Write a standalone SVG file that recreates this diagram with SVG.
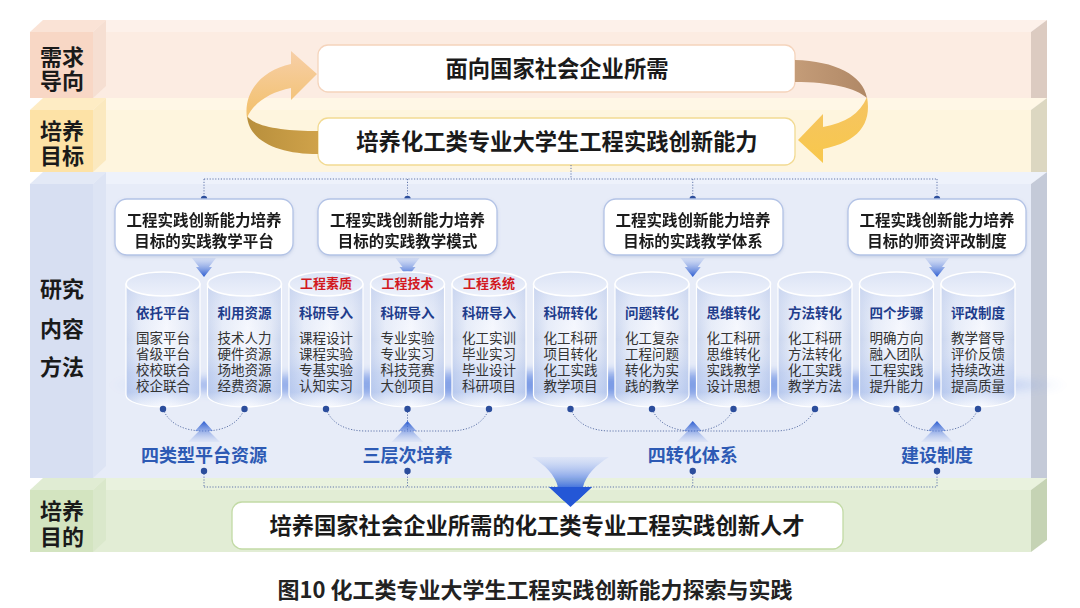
<svg xmlns="http://www.w3.org/2000/svg" xmlns:xlink="http://www.w3.org/1999/xlink" width="1080" height="608" viewBox="0 0 1080 608">
<style>
.lbl{font-family:"Noto Sans CJK SC","Noto Sans",sans-serif;font-weight:700;font-size:22px;fill:#1a1a1a;text-anchor:middle}
.big{font-family:"Noto Sans CJK SC","Noto Sans",sans-serif;font-weight:700;font-size:22.3px;fill:#1a1a1a;text-anchor:middle}
.hdr{font-family:"Noto Sans CJK SC","Noto Sans",sans-serif;font-weight:700;font-size:15.5px;fill:#1a1a1a;text-anchor:middle}
.red{font-family:"Noto Sans CJK SC","Noto Sans",sans-serif;font-weight:700;font-size:13px;fill:#d2191f;text-anchor:middle}
.ttl{font-family:"Noto Sans CJK SC","Noto Sans",sans-serif;font-weight:700;font-size:13.5px;fill:#1f3d8c;text-anchor:middle}
.body{font-family:"Noto Sans CJK SC","Noto Sans",sans-serif;font-weight:400;font-size:13.5px;fill:#333;text-anchor:middle}
.grp{font-family:"Noto Sans CJK SC","Noto Sans",sans-serif;font-weight:700;font-size:18px;fill:#2d5ab4;text-anchor:middle}
.cap{font-family:"Noto Sans CJK SC","Noto Sans",sans-serif;font-weight:700;font-size:22px;fill:#222;text-anchor:middle}
.dot{fill:#2b4d9c}
.dl{fill:none;stroke:#6277ab;stroke-width:1;stroke-dasharray:1.2 1.6}
.hbox{fill:#fff;stroke:#b3c3e6;stroke-width:1.3}
</style>
<defs>
<linearGradient id="cylBody" x1="0" y1="0" x2="1" y2="0">
<stop offset="0" stop-color="#c8d4ee"/><stop offset="0.2" stop-color="#e5ebf8"/><stop offset="0.55" stop-color="#f6f8fe"/><stop offset="0.85" stop-color="#e2e8f6"/><stop offset="1" stop-color="#cbd6ee"/>
</linearGradient>
<linearGradient id="cylShade" x1="0" y1="0" x2="0" y2="1">
<stop offset="0" stop-color="#c5d2f0" stop-opacity="0.6"/><stop offset="0.45" stop-color="#ffffff" stop-opacity="0"/><stop offset="0.72" stop-color="#a3bbee" stop-opacity="0.3"/><stop offset="0.88" stop-color="#9bb5ec" stop-opacity="0.4"/><stop offset="1" stop-color="#ffffff" stop-opacity="0.3"/>
</linearGradient>
<linearGradient id="cylTop" x1="0" y1="0" x2="0" y2="1">
<stop offset="0" stop-color="#dbe3f5"/><stop offset="1" stop-color="#edf1fb"/>
</linearGradient>
<linearGradient id="downG" x1="0" y1="0" x2="0" y2="1">
<stop offset="0" stop-color="#8fa9e8" stop-opacity="0.2"/><stop offset="1" stop-color="#2a5bd0"/>
</linearGradient>
<linearGradient id="upG" x1="0" y1="0" x2="0" y2="1">
<stop offset="0" stop-color="#2a5bd0"/><stop offset="1" stop-color="#8fa9e8" stop-opacity="0.1"/>
</linearGradient>
<linearGradient id="bigG" x1="0" y1="0" x2="0" y2="1">
<stop offset="0" stop-color="#a9bff0" stop-opacity="0.15"/><stop offset="0.6" stop-color="#4a78de"/><stop offset="1" stop-color="#2457d6"/>
</linearGradient>
<linearGradient id="peachG" x1="0" y1="0" x2="0" y2="1">
<stop offset="0" stop-color="#f7cfa8"/><stop offset="1" stop-color="#f2c06a"/>
</linearGradient>
<linearGradient id="goldG" x1="0" y1="0" x2="1" y2="0">
<stop offset="0" stop-color="#b88f3c"/><stop offset="1" stop-color="#cfa24a"/>
</linearGradient>
<linearGradient id="brownG" x1="0" y1="0" x2="1" y2="0">
<stop offset="0" stop-color="#c49c78"/><stop offset="1" stop-color="#b08866"/>
</linearGradient>
<linearGradient id="yellowG" x1="0" y1="0" x2="0" y2="1">
<stop offset="0" stop-color="#f5c463"/><stop offset="1" stop-color="#f8c84c"/>
</linearGradient>
<radialGradient id="glowG" cx="0.5" cy="0.5" r="0.5">
<stop offset="0" stop-color="#5f86e0" stop-opacity="1"/><stop offset="0.8" stop-color="#7b9be6" stop-opacity="0.75"/><stop offset="1" stop-color="#8eaaea" stop-opacity="0"/>
</radialGradient>
<filter id="blur" x="-10%" y="-100%" width="120%" height="300%"><feGaussianBlur stdDeviation="4"/></filter>
<filter id="sh" x="-10%" y="-20%" width="120%" height="150%"><feDropShadow dx="0" dy="1.5" stdDeviation="1.5" flood-color="#6b7fb0" flood-opacity="0.25"/></filter>
<g id="cyl">
<path d="M-37,284 L-37,395 A37,12 0 0 0 37,395 L37,284 Z" fill="url(#cylBody)"/>
<path d="M-37,284 L-37,395 A37,12 0 0 0 37,395 L37,284 Z" fill="url(#cylShade)" stroke="#ffffff" stroke-width="1.2"/>
<ellipse cx="0" cy="284" rx="37" ry="12" fill="url(#cylTop)" stroke="#ffffff" stroke-width="1.6"/>
</g>
</defs>

<rect width="1080" height="608" fill="#ffffff"/>

<!-- band 1 -->
<g id="band-demand">
<polygon points="30,32 46,20 1047,20 1031,32" fill="#fdf1ea"/>
<rect x="30" y="32" width="1001" height="66" fill="#fcece2"/>
<polygon points="1031,32 1047,20 1047,98 1031,98" fill="#dccbc1"/>
<rect x="30" y="32" width="63" height="66" fill="#f8d7c5"/>
<polygon points="93,32 106,20 106,86 93,98" fill="#f6dfd2"/>
<polygon points="30,32 43,20 106,20 93,32" fill="#fae3d6"/>
<text class="lbl" x="62" y="64.5">需求<tspan x="62" dy="24.5">导向</tspan></text>
</g>
<!-- band 2 -->
<g id="band-goal">
<polygon points="30,110 46,98 1047,98 1031,110" fill="#fff7e6"/>
<rect x="30" y="110" width="1001" height="62" fill="#fef5de"/>
<polygon points="1031,110 1047,98 1047,172 1031,172" fill="#dcd7c1"/>
<rect x="30" y="110" width="63" height="62" fill="#fde2a6"/>
<polygon points="93,110 106,98 106,160 93,172" fill="#fbe9bf"/>
<polygon points="30,110 43,98 106,98 93,110" fill="#feecc4"/>
<text class="lbl" x="62" y="138.5">培养<tspan x="62" dy="25.5">目标</tspan></text>
</g>
<!-- band 3 -->
<g id="band-research">
<polygon points="30,184 46,172 1047,172 1031,184" fill="#eef2fb"/>
<rect x="30" y="184" width="1001" height="294" fill="#e7ecf8"/>
<polygon points="1031,184 1047,172 1047,478 1031,478" fill="#c4cad8"/>
<rect x="30" y="184" width="63" height="294" fill="#d7dff2"/>
<polygon points="93,184 106,172 106,466 93,478" fill="#dde4f4"/>
<polygon points="30,184 43,172 106,172 93,184" fill="#e3e9f6"/>
<text class="lbl" x="62" y="296.5">研究<tspan x="62" dy="40">内容</tspan><tspan x="62" dy="38.5">方法</tspan></text>
</g>
<!-- band 4 -->
<g id="band-purpose">
<polygon points="30,490 46,478 1047,478 1031,490" fill="#e9f2de"/>
<rect x="30" y="490" width="1001" height="62" fill="#e2edd5"/>
<polygon points="1031,490 1047,478 1047,540 1031,552" fill="#c5d3b4"/>
<rect x="30" y="490" width="63" height="62" fill="#d3e4c0"/>
<polygon points="93,490 106,478 106,540 93,552" fill="#dae8cb"/>
<polygon points="30,490 43,478 106,478 93,490" fill="#e0ecd3"/>
<text class="lbl" x="62" y="518.5">培养<tspan x="62" dy="26.5">目的</tspan></text>
</g>

<!-- glow behind cylinders -->
<ellipse cx="588" cy="385" rx="480" ry="16" fill="url(#glowG)" filter="url(#blur)" opacity="0.9"/>

<!-- top nodes -->
<g id="node-demand">
<rect x="318" y="45" width="477" height="47" rx="10" fill="#fff" stroke="#f5d4bc" stroke-width="1.3"/>
<text class="big" x="557" y="76.5">面向国家社会企业所需</text>
</g>
<g id="node-goal">
<rect x="318" y="118" width="477" height="47" rx="10" fill="#fff" stroke="#f2da92" stroke-width="1.3"/>
<text class="big" x="557" y="149.5">培养化工类专业大学生工程实践创新能力</text>
</g>

<!-- cycle arrows -->
<g id="cycle-arrows">
<path d="M247,116 C255,127 285,131 318,131 L318,154 C280,154 249,142 247,116 Z" fill="url(#goldG)"/>
<path d="M247,118 C243,92 262,70 291,64 L291,51 L317,74 L291,100 L291,88 C270,92 253,103 247,118 Z" fill="url(#peachG)"/>
<path d="M795,60 C835,61 863,75 867,98 C856,88 830,82 795,82 Z" fill="url(#brownG)"/>
<path d="M867,97 C872,124 858,142 823,149 L823,163 L798,140 L823,114 L823,127 C845,123 860,114 867,97 Z" fill="url(#yellowG)"/>
</g>

<!-- connectors -->
<g id="connectors">
<path class="dl" d="M571,165 L571,179 M204,179 L937,179 M204,179 L204,199 M407.5,179 L407.5,199 M692.75,179 L692.75,199 M937,179 L937,199"/>
<circle class="dot" cx="204" cy="199" r="3.2"/>
<circle class="dot" cx="407.5" cy="199" r="3.2"/>
<circle class="dot" cx="692.75" cy="199" r="3.2"/>
<circle class="dot" cx="937" cy="199" r="3.2"/>
<path d="M192,258 L216,258 L209,267 L212,267 L204,277 L196,267 L199,267 Z" fill="url(#downG)"/>
<path d="M395.5,258 L419.5,258 L412.5,267 L415.5,267 L407.5,277 L399.5,267 L402.5,267 Z" fill="url(#downG)"/>
<path d="M680.75,258 L704.75,258 L697.75,267 L700.75,267 L692.75,277 L684.75,267 L687.75,267 Z" fill="url(#downG)"/>
<path d="M925,258 L949,258 L942,267 L945,267 L937,277 L929,267 L932,267 Z" fill="url(#downG)"/>
<path class="dl" d="M163,409 C169,424 184,431 204,431 C224,431 238,424 244.5,409"/>
<path class="dl" d="M326,409 C332,424 346,431 366,431 L449,431 C469,431 483,424 489,409 M407.5,409 L407.5,431"/>
<path class="dl" d="M570.5,409 C577,424 591,431 611,431 L774,431 C794,431 808,424 815,409 M652,409 C658,423 672,431 692.75,431 C713,431 727,423 733.5,409"/>
<path class="dl" d="M896.5,409 C902,424 917,431 937,431 C957,431 972,424 978,409"/>
<path d="M204,421 L213,431 L209,431 L220,442 L188,442 L199,431 L195,431 Z" fill="url(#upG)"/>
<path d="M407.5,421 L416.5,431 L412.5,431 L423.5,442 L391.5,442 L402.5,431 L398.5,431 Z" fill="url(#upG)"/>
<path d="M692.75,421 L701.75,431 L697.75,431 L708.75,442 L676.75,442 L687.75,431 L683.75,431 Z" fill="url(#upG)"/>
<path d="M937,421 L946,431 L942,431 L953,442 L921,442 L932,431 L928,431 Z" fill="url(#upG)"/>
<path class="dl" d="M204,471 L204,487 M407.5,471 L407.5,487 M692.75,471 L692.75,487 M937,471 L937,487 M204,487 L937,487"/>
<circle class="dot" cx="204" cy="471" r="3.2"/>
<circle class="dot" cx="407.5" cy="471" r="3.2"/>
<circle class="dot" cx="692.75" cy="471" r="3.2"/>
<circle class="dot" cx="937" cy="471" r="3.2"/>
<path d="M532,457 L609,457 C596,465 586,475 583,487 L592,487 L570.5,507 L549,487 L558,487 C555,475 545,465 532,457 Z" fill="url(#bigG)"/>
</g>

<!-- header nodes -->
<g id="hdr-platform" filter="url(#sh)">
<rect class="hbox" x="115" y="199" width="178" height="56" rx="12"/>
<text class="hdr" x="204" y="225.5">工程实践创新能力培养<tspan x="204" dy="21">目标的实践教学平台</tspan></text>
</g>
<g id="hdr-mode" filter="url(#sh)">
<rect class="hbox" x="318" y="199" width="179" height="56" rx="12"/>
<text class="hdr" x="407.5" y="225.5">工程实践创新能力培养<tspan x="407.5" dy="21">目标的实践教学模式</tspan></text>
</g>
<g id="hdr-system" filter="url(#sh)">
<rect class="hbox" x="604" y="199" width="179" height="56" rx="12"/>
<text class="hdr" x="693" y="225.5">工程实践创新能力培养<tspan x="693" dy="21">目标的实践教学体系</tspan></text>
</g>
<g id="hdr-faculty" filter="url(#sh)">
<rect class="hbox" x="848" y="199" width="178" height="56" rx="12"/>
<text class="hdr" x="937" y="225.5">工程实践创新能力培养<tspan x="937" dy="21">目标的师资评改制度</tspan></text>
</g>

<!-- cylinders -->
<g id="cyl-1" transform="translate(163,0)"><use href="#cyl"/>
<text class="ttl" x="0" y="318">依托平台</text>
<text class="body" x="0" y="343">国家平台<tspan x="0" dy="16">省级平台</tspan><tspan x="0" dy="16">校校联合</tspan><tspan x="0" dy="16">校企联合</tspan></text></g>
<g id="cyl-2" transform="translate(244.5,0)"><use href="#cyl"/>
<text class="ttl" x="0" y="318">利用资源</text>
<text class="body" x="0" y="343">技术人力<tspan x="0" dy="16">硬件资源</tspan><tspan x="0" dy="16">场地资源</tspan><tspan x="0" dy="16">经费资源</tspan></text></g>
<g id="cyl-3" transform="translate(326,0)"><use href="#cyl"/>
<text class="red" x="0" y="288">工程素质</text>
<text class="ttl" x="0" y="318">科研导入</text>
<text class="body" x="0" y="343">课程设计<tspan x="0" dy="16">课程实验</tspan><tspan x="0" dy="16">专基实验</tspan><tspan x="0" dy="16">认知实习</tspan></text></g>
<g id="cyl-4" transform="translate(407.5,0)"><use href="#cyl"/>
<text class="red" x="0" y="288">工程技术</text>
<text class="ttl" x="0" y="318">科研导入</text>
<text class="body" x="0" y="343">专业实验<tspan x="0" dy="16">专业实习</tspan><tspan x="0" dy="16">科技竞赛</tspan><tspan x="0" dy="16">大创项目</tspan></text></g>
<g id="cyl-5" transform="translate(489,0)"><use href="#cyl"/>
<text class="red" x="0" y="288">工程系统</text>
<text class="ttl" x="0" y="318">科研导入</text>
<text class="body" x="0" y="343">化工实训<tspan x="0" dy="16">毕业实习</tspan><tspan x="0" dy="16">毕业设计</tspan><tspan x="0" dy="16">科研项目</tspan></text></g>
<g id="cyl-6" transform="translate(570.5,0)"><use href="#cyl"/>
<text class="ttl" x="0" y="318">科研转化</text>
<text class="body" x="0" y="343">化工科研<tspan x="0" dy="16">项目转化</tspan><tspan x="0" dy="16">化工实践</tspan><tspan x="0" dy="16">教学项目</tspan></text></g>
<g id="cyl-7" transform="translate(652,0)"><use href="#cyl"/>
<text class="ttl" x="0" y="318">问题转化</text>
<text class="body" x="0" y="343">化工复杂<tspan x="0" dy="16">工程问题</tspan><tspan x="0" dy="16">转化为实</tspan><tspan x="0" dy="16">践的教学</tspan></text></g>
<g id="cyl-8" transform="translate(733.5,0)"><use href="#cyl"/>
<text class="ttl" x="0" y="318">思维转化</text>
<text class="body" x="0" y="343">化工科研<tspan x="0" dy="16">思维转化</tspan><tspan x="0" dy="16">实践教学</tspan><tspan x="0" dy="16">设计思想</tspan></text></g>
<g id="cyl-9" transform="translate(815,0)"><use href="#cyl"/>
<text class="ttl" x="0" y="318">方法转化</text>
<text class="body" x="0" y="343">化工科研<tspan x="0" dy="16">方法转化</tspan><tspan x="0" dy="16">化工实践</tspan><tspan x="0" dy="16">教学方法</tspan></text></g>
<g id="cyl-10" transform="translate(896.5,0)"><use href="#cyl"/>
<text class="ttl" x="0" y="318">四个步骤</text>
<text class="body" x="0" y="343">明确方向<tspan x="0" dy="16">融入团队</tspan><tspan x="0" dy="16">工程实践</tspan><tspan x="0" dy="16">提升能力</tspan></text></g>
<g id="cyl-11" transform="translate(978,0)"><use href="#cyl"/>
<text class="ttl" x="0" y="318">评改制度</text>
<text class="body" x="0" y="343">教学督导<tspan x="0" dy="16">评价反馈</tspan><tspan x="0" dy="16">持续改进</tspan><tspan x="0" dy="16">提高质量</tspan></text></g>

<!-- bottom dots on cylinders -->
<g id="cyl-dots">
<circle class="dot" cx="163" cy="409" r="3.2"/><circle class="dot" cx="244.5" cy="409" r="3.2"/><circle class="dot" cx="326" cy="409" r="3.2"/><circle class="dot" cx="407.5" cy="409" r="3.2"/><circle class="dot" cx="489" cy="409" r="3.2"/><circle class="dot" cx="570.5" cy="409" r="3.2"/><circle class="dot" cx="652" cy="409" r="3.2"/><circle class="dot" cx="733.5" cy="409" r="3.2"/><circle class="dot" cx="815" cy="409" r="3.2"/><circle class="dot" cx="896.5" cy="409" r="3.2"/><circle class="dot" cx="978" cy="409" r="3.2"/>
</g>

<!-- group labels -->
<g id="grp-platform"><text class="grp" x="204" y="461.5">四类型平台资源</text></g>
<g id="grp-three"><text class="grp" x="407.5" y="461.5">三层次培养</text></g>
<g id="grp-four"><text class="grp" x="692.75" y="461.5">四转化体系</text></g>
<g id="grp-system"><text class="grp" x="937" y="461.5">建设制度</text></g>

<!-- bottom node -->
<g id="node-purpose">
<rect x="232" y="502" width="611" height="47" rx="10" fill="#fff" stroke="#c2daa5" stroke-width="1.3"/>
<text class="big" x="537" y="533.5">培养国家社会企业所需的化工类专业工程实践创新人才</text>
</g>
<path d="M549,487 L592,487 L570.5,507 Z" fill="#2457d6"/>

<text class="cap" x="535" y="598">图10 化工类专业大学生工程实践创新能力探索与实践</text>
</svg>
